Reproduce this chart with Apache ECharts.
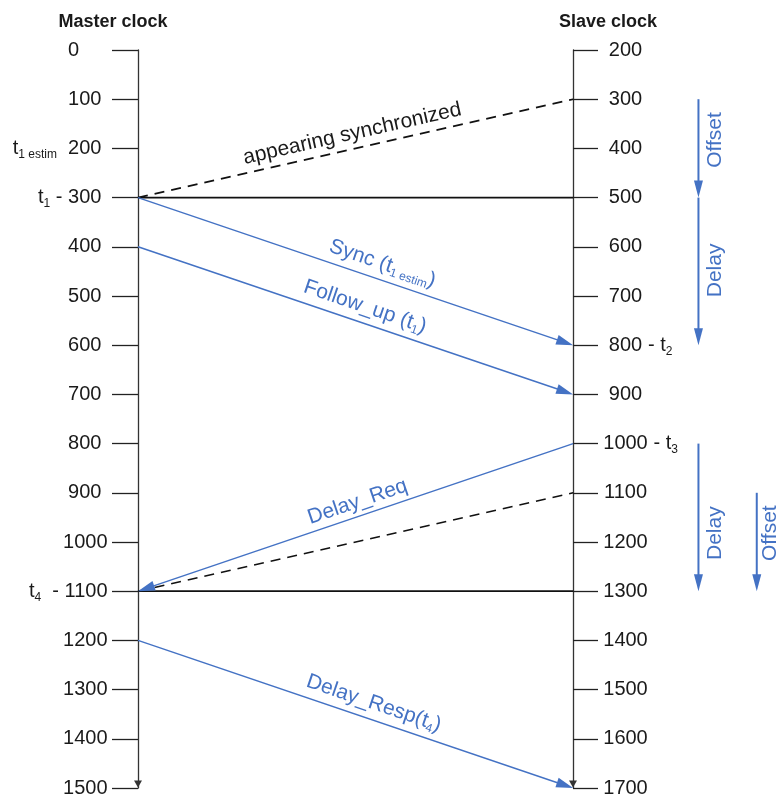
<!DOCTYPE html>
<html>
<head>
<meta charset="utf-8">
<title>PTP sync</title>
<script src="https://cdn.jsdelivr.net/npm/echarts@6.0.0/dist/echarts.min.js"></script>
<style>
  html, body { margin: 0; padding: 0; background: #fff; }
  #main { width: 782px; height: 798px; }
</style>
</head>
<body>
<div id="main"></div>
<script>
// clock scales
const masterMin = 0
const masterMax = 1500
const tickStep = 100
const slaveShift = 200 // slave clock reads 200 ahead of master

// notes next to the tick labels: [subscript, separator]
const masterNotes = { 200: ['1 estim', '  '], 300: ['1', ' - '], 1100: ['4', '  - '] }
const slaveNotes = { 800: '2', 1000: '3' }

// messages (master time, slave time)
const msgMaster = [300, 400, 1100, 1200]
const msgSlave = [800, 900, 1000, 1700]
const msgToSlave = [true, true, false, true]
const msgNames = ['Sync (t{s|1 estim})', 'Follow_up (t{s|1})', 'Delay_Req', 'Delay_Resp(t{s|4})']

// same instant on both clocks
const levelMaster = [300, 1100]
const levelSlave = [500, 1300]
// appearing synchronized
const dashMaster = [300, 1100]
const dashSlave = [300, 1100]

// offset / delay spans, read on the slave clock
const spanFrom = [300, 500, 1000, 1100]
const spanTo = [500, 800, 1300, 1300]
const spanNames = ['Offset', 'Delay', 'Delay', 'Offset']
const spanLabelAt = [383, 648, 1182, 1182]
const spanCol = [0, 0, 0, 1]

const BLUE = '#4472c4'
const INK = '#1a1a1a'
const FONT = 'Liberation Sans'
const MASTER_X = 0
const SLAVE_X = 100
const COL_X = [128.8, 142.2]
const COL_TEXT_X = [132.6, 145.3]

const toY = s => s - slaveShift

function segItem(color, width, dash, head) {
  return function(params, api) {
    const a = api.coord([api.value(0), api.value(1)])
    const b = api.coord([api.value(2), api.value(3)])
    const dx = b[0] - a[0]
    const dy = b[1] - a[1]
    const len = Math.hypot(dx, dy)
    const ux = dx / len
    const uy = dy / len
    let end = b
    if (head) end = [b[0] - ux * head[0] * 0.7, b[1] - uy * head[0] * 0.7]
    const kids = [{
      type: 'line',
      shape: { x1: a[0], y1: a[1], x2: end[0], y2: end[1] },
      style: { stroke: color, lineWidth: width, lineDash: dash || null, fill: null }
    }]
    if (head) {
      const L = head[0]
      const W = head[1]
      const bx = b[0] - ux * L
      const by = b[1] - uy * L
      kids.push({
        type: 'polygon',
        shape: { points: [[b[0], b[1]], [bx - uy * W, by + ux * W], [bx + uy * W, by - ux * W]] },
        style: { fill: color }
      })
    }
    return { type: 'group', children: kids }
  }
}

const msgData = msgMaster.map((m, i) => msgToSlave[i]
  ? [MASTER_X, m, SLAVE_X, toY(msgSlave[i])]
  : [SLAVE_X, toY(msgSlave[i]), MASTER_X, m])
const levelData = levelMaster.map((m, i) => [MASTER_X, m, SLAVE_X, toY(levelSlave[i])])
const dashData = dashMaster.map((m, i) => [MASTER_X, m, SLAVE_X, toY(dashSlave[i])])
const spanData = spanFrom.map((s, i) => [COL_X[spanCol[i]], toY(s), COL_X[spanCol[i]], toY(spanTo[i])])

const subRich = {
  t: { fontSize: 20, lineHeight: 24, fontFamily: FONT, color: INK },
  s: { fontSize: 12, lineHeight: 12, verticalAlign: 'bottom', fontFamily: FONT, color: INK },
  p1: { fontSize: 20, lineHeight: 24, padding: [0, 30.9, 0, 0], fontFamily: FONT, color: INK },
  p3: { fontSize: 20, lineHeight: 24, padding: [0, 8.6, 0, 0], fontFamily: FONT, color: INK },
  p4: { fontSize: 20, lineHeight: 24, padding: [0, 2.5, 0, 0], fontFamily: FONT, color: INK },
  n: { fontSize: 20, lineHeight: 24, width: 45, align: 'center', fontFamily: FONT, color: INK }
}

const axisCommon = {
  type: 'value',
  inverse: true,
  interval: tickStep,
  splitLine: { show: false },
  axisLine: {
    show: true,
    lineStyle: { color: '#333', width: 1.3 },
    symbol: ['triangle', 'none'],
    symbolSize: [8, 7],
    symbolOffset: [4, 0]
  },
  axisTick: { show: true, lineStyle: { color: '#222', width: 1.3 } }
}

const option = {
  animation: false,
  backgroundColor: '#fff',
  title: [
    { text: 'Master clock', left: 113, top: 13, padding: 0, textAlign: 'center',
      textStyle: { fontSize: 18, fontWeight: 'bold', fontFamily: FONT, color: INK } },
    { text: 'Slave clock', left: 608, top: 13, padding: 0, textAlign: 'center',
      textStyle: { fontSize: 18, fontWeight: 'bold', fontFamily: FONT, color: INK } }
  ],
  grid: { left: 138, right: 0, top: 50, bottom: 9 },
  xAxis: { type: 'value', min: 0, max: 148, show: false },
  yAxis: [
    Object.assign({}, axisCommon, {
      position: 'left',
      min: masterMin,
      max: masterMax,
      axisTick: Object.assign({}, axisCommon.axisTick, { length: 26 }),
      axisLabel: {
        margin: 28,
        rich: subRich,
        formatter: v => {
          const style = v >= 1000 ? 'p4' : (v >= 100 ? 'p3' : 'p1')
          const num = `{${style}|${v}}`
          const note = masterNotes[v]
          if (!note) return num
          return `{t|t}{s|${note[0]}}{t|${note[1]}}${num}`
        }
      }
    }),
    Object.assign({}, axisCommon, {
      position: 'right',
      offset: -209,
      min: masterMin + slaveShift,
      max: masterMax + slaveShift,
      axisTick: Object.assign({}, axisCommon.axisTick, { length: 25 }),
      axisLabel: {
        margin: 30,
        rich: subRich,
        formatter: v => {
          const note = slaveNotes[v]
          if (!note) return `{n|${v}}`
          return `{n|${v}}{t|${v >= 1000 ? ' - t' : '- t'}}{s|${note}}`
        }
      }
    })
  ],
  series: [
    { id: 'level', type: 'custom', renderItem: segItem('#111', 1.8), data: levelData, encode: { x: [0, 2], y: [1, 3] } },
    { id: 'dash', type: 'custom', renderItem: segItem('#111', 1.6, [10, 7]), data: dashData, encode: { x: [0, 2], y: [1, 3] } },
    { id: 'msg', type: 'custom', renderItem: segItem(BLUE, 1.5, null, [17, 5]), data: msgData, encode: { x: [0, 2], y: [1, 3] } },
    { id: 'span', type: 'custom', renderItem: segItem(BLUE, 2, null, [17, 4.5]), data: spanData, encode: { x: [0, 2], y: [1, 3] } }
  ]
}

const chart = echarts.init(document.getElementById('main'), null, { renderer: 'canvas' })
chart.setOption(option)

// label placement along each line, from the axes' own pixel mapping
const px = p => chart.convertToPixel({ gridIndex: 0 }, p)
const dp = p => chart.convertFromPixel({ gridIndex: 0 }, p)
function along(seg, t, lift) {
  let a = px([seg[0], seg[1]])
  let b = px([seg[2], seg[3]])
  if (a[0] > b[0]) { const tmp = a; a = b; b = tmp }
  const dx = b[0] - a[0]
  const dy = b[1] - a[1]
  const len = Math.hypot(dx, dy)
  const ux = dx / len
  const uy = dy / len
  const c = [a[0] + dx * t + uy * lift, a[1] + dy * t - ux * lift]
  return { value: dp(c), rot: -Math.atan2(dy, dx) * 180 / Math.PI }
}

const msgAt = [0.55, 0.51, 0.515, 0.53]
const msgLift = [16, 16, 14, 16]
const noteData = []
msgData.forEach((seg, i) => {
  const p = along(seg, msgAt[i], msgLift[i])
  noteData.push({ value: p.value, label: { rotate: p.rot, formatter: msgNames[i], color: BLUE,
    rich: { s: { fontSize: 12, lineHeight: 12, verticalAlign: 'bottom', color: BLUE, fontFamily: FONT } } } })
})
{
  const p = along(dashData[0], 0.5, 15)
  noteData.push({ value: p.value, label: { rotate: p.rot, formatter: 'appearing synchronized', color: INK } })
}
spanNames.forEach((name, i) => {
  noteData.push({ value: [COL_TEXT_X[spanCol[i]], toY(spanLabelAt[i])], label: { rotate: 90, formatter: name, color: BLUE } })
})

chart.setOption({
  series: [{
    id: 'notes',
    type: 'scatter',
    symbolSize: 1,
    clip: false,
    itemStyle: { color: 'rgba(0,0,0,0)' },
    silent: true,
    label: {
      show: true,
      position: 'inside',
      fontSize: 21,
      lineHeight: 24,
      fontFamily: FONT,
      opacity: 1,
      textBorderWidth: 0,
      textBorderColor: 'transparent'
    },
    labelLayout: { hideOverlap: false },
    data: noteData
  }]
})
</script>
</body>
</html>
